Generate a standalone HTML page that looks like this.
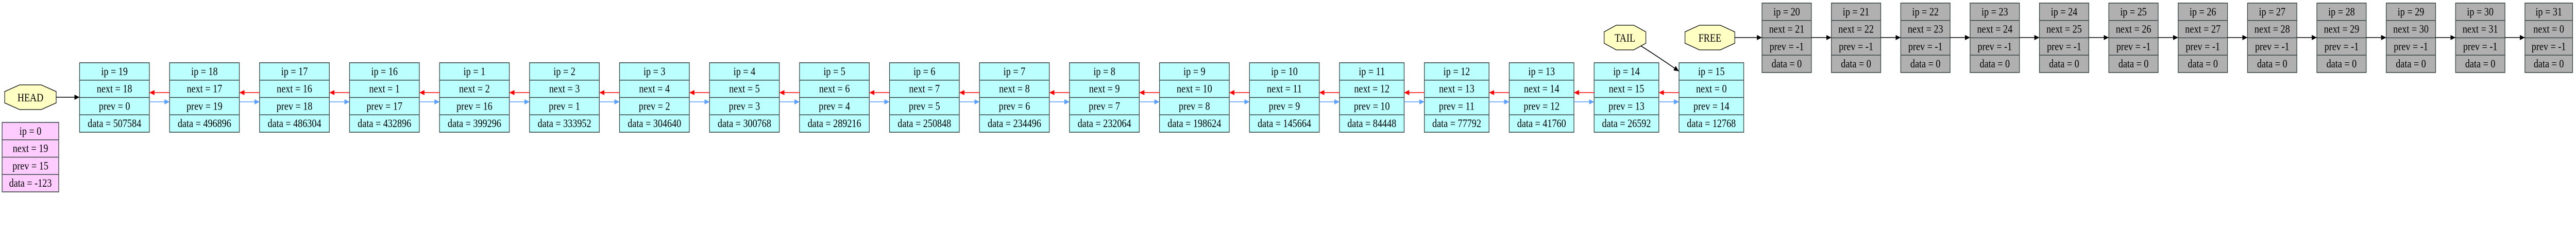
<!DOCTYPE html>
<html><head><meta charset="utf-8">
<style>
html,body{margin:0;padding:0;background:#fff;overflow:hidden;width:100%;height:100%;}
svg{display:block;position:fixed;left:0;top:0;width:100vw;height:100vh;}
text{font-family:"Liberation Serif",serif;font-size:22px;fill:#000;}
</style></head>
<body>
<svg id="chart" viewBox="0 0 6054 451" preserveAspectRatio="none" xmlns="http://www.w3.org/2000/svg">
<defs>
<marker id="ah-black" markerWidth="12" markerHeight="10" refX="11" refY="5" orient="auto" markerUnits="userSpaceOnUse"><path d="M0,0 L12,5 L0,10 z" fill="#000"/></marker>
<marker id="ah-red" markerWidth="12" markerHeight="10" refX="11" refY="5" orient="auto" markerUnits="userSpaceOnUse"><path d="M0,0 L12,5 L0,10 z" fill="#f00"/></marker>
<marker id="ah-blue" markerWidth="12" markerHeight="10" refX="11" refY="5" orient="auto" markerUnits="userSpaceOnUse"><path d="M0,0 L12,5 L0,10 z" fill="#5aa0ff"/></marker>
</defs>
</svg>
<script>
// used list (cyan)
const usedIps   = [19,18,17,16,1,2,3,4,5,6,7,8,9,10,11,12,13,14,15];
const usedNext  = [18,17,16,1,2,3,4,5,6,7,8,9,10,11,12,13,14,15,0];
const usedPrev  = [0,19,18,17,16,1,2,3,4,5,6,7,8,9,10,11,12,13,14];
const usedData  = [507584,496896,486304,432896,399296,333952,304640,300768,289216,250848,234496,232064,198624,145664,84448,77792,41760,26592,12768];
// free list (gray)
const freeIps   = [20,21,22,23,24,25,26,27,28,29,30,31];
const freeNext  = [21,22,23,24,25,26,27,28,29,30,31,0];
const freePrev  = [-1,-1,-1,-1,-1,-1,-1,-1,-1,-1,-1,-1];
const freeData  = [0,0,0,0,0,0,0,0,0,0,0,0];
// zero node
const zeroNode  = [0,19,15,-123];

const NS="http://www.w3.org/2000/svg";
const svg=document.getElementById('chart');
const ROW=33.75;
function mk(tag,attrs,parent){const e=document.createElementNS(NS,tag);for(const k in attrs)e.setAttribute(k,attrs[k]);(parent||svg).appendChild(e);return e;}
function node(x,y,vals,fill,name,w){
  const labels=['ip = '+vals[0],'next = '+vals[1],'prev = '+vals[2],'data = '+vals[3]];
  const g=mk('g',{});
  
  
  mk('rect',{x:x,y:y,width:w,height:ROW*4,fill:fill,stroke:'#3a4646','stroke-width':1.6},g);
  for(let i=1;i<4;i++)mk('line',{x1:x,x2:x+w,y1:y+ROW*i,y2:y+ROW*i,stroke:'#3a4646','stroke-width':1.6},g);
  labels.forEach((l,i)=>{const t=mk('text',{x:x+w/2,y:y+ROW*i+24,'text-anchor':'middle'},g);t.textContent=l;
    
    });
  return {x:x,w:w,y:y};
}
function octo(x,y,w,h,label,name){
  const g=mk('g',{});
  
  
  const ix=w*0.29,iy=h*0.27;
  const pts=[[x+ix,y],[x+w-ix,y],[x+w,y+iy],[x+w,y+h-iy],[x+w-ix,y+h],[x+ix,y+h],[x,y+h-iy],[x,y+iy]].map(p=>p.join(',')).join(' ');
  mk('polygon',{points:pts,fill:'#ffffc4',stroke:'#000','stroke-width':1.3},g);
  const t=mk('text',{x:x+w/2,y:y+h/2+8,'text-anchor':'middle'},g);t.textContent=label;
  return g;
}
function arrow(x1,y1,x2,y2,color,name){
  const m=color==='#000'?'ah-black':(color==='#f00'?'ah-red':'ah-blue');
  const l=mk('line',{x1:x1,y1:y1,x2:x2,y2:y2,stroke:color,'stroke-width':1.6,'marker-end':'url(#'+m+')'});
  
  
}

// zero node
node(5,238,zeroNode,'#ffccff','zero-node',133);

// used chain
let x=187;const used=[];
usedIps.forEach((ip,i)=>{const w=String(usedData[i]).length>=6?164:152;used.push(node(x,122,[ip,usedNext[i],usedPrev[i],usedData[i]],'#bbffff','used-node-'+ip,w));x+=w+47.5;});
for(let i=0;i<used.length-1;i++){
  const a=used[i],b=used[i+1];
  arrow(b.x,180,a.x+a.w+1,180,'#f00','next-arrow');
  arrow(a.x+a.w,198,b.x-1,198,'#5aa0ff','prev-arrow');
}
// head
octo(11,165,121,48,'HEAD','head-marker');
arrow(132,189,used[0].x-1,189,'#000','head-arrow');
// tail
octo(3770,49,98,48,'TAIL','tail-marker');
const last=used[used.length-1];
const tp=mk('path',{d:'M3856,89 Q3900,112 '+(last.x-1)+',138',fill:'none',stroke:'#000','stroke-width':1.6,'marker-end':'url(#ah-black)'});



// free chain
octo(3960,49,117,48,'FREE','free-marker');
x=4141;const free=[];
freeIps.forEach((ip,i)=>{const w=freeNext[i]>=10?116:112;free.push(node(x,6,[ip,freeNext[i],freePrev[i],freeData[i]],'#b0b0b0','free-node-'+ip,w));x+=w+47;});
arrow(4077,73,free[0].x-1,73,'#000','free-arrow');
for(let i=0;i<free.length-1;i++){const a=free[i],b=free[i+1];arrow(a.x+a.w,73,b.x-1,73,'#000','free-next-arrow');}
</script>
</body></html>
